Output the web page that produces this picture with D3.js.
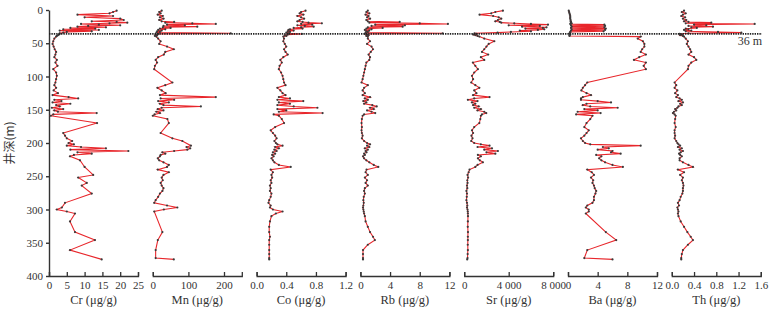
<!DOCTYPE html>
<html>
<head>
<meta charset="utf-8">
<script src="https://cdn.jsdelivr.net/npm/d3@7"></script>
<style>
  body { margin: 0; background: #fff; }
  text { font-family: "Liberation Serif", "DejaVu Serif", serif; fill: #333; }
</style>
</head>
<body>
<svg id="chart" width="773" height="314"></svg>
<script>
// sample depths (m), shared by all elements; null = no sample for that element
const depths = [
  1,3,5,7,9,11,13,15,17,18,19,20,21,22,23,24,25,26,27,28,29,30,31,32,33,34,35,36,
  37,38,39,40,
  43,47,51,55,59,63,67,71,75,79,84,89,94,99,
  104,109,113,117,121,125,128,131,133,135,137,139,141,143,145,147,149,151,153,155,157,159,
  164,170,176,181,185,189,193,197,200,
  202,204,206,208,210,212,214,216,218,220,223,226,229,
  233,236,240,244,248,252,256,260,264,268,272,276,281,286,290,294,297,300,
  303,306,310,318,326,334,341,346,353,361,367,373,375
];

const cr = [
  19,18,17,8,18,10,20,21,12,19,22,17,9,14,20,11,8,16,6,13,4,14,3,12,5,4,3,3,
  2.8,2.5,2.2,2.0,
  1.5,1.2,1.0,1.3,1.6,2.0,1.8,1.5,2.2,1.8,2.4,1.2,2.0,2.2,
  2.0,1.8,1.5,2.0,1.3,2.5,1.0,5.5,8.2,1.5,3.5,1.0,6,2,3,0.8,4,1.5,2.5,13.4,1.2,0.5,
  null,13.5,null,null,4,4.5,5,6.5,5.5,
  7,5,9,16,6,22.3,8,12,7,5.9,null,8.7,null,
  null,10,null,null,12.4,8.2,null,10.6,9.2,null,null,12,null,null,4.5,null,3.6,2.2,
  5,7.3,null,5.9,null,7.3,null,12.9,null,5.9,null,null,14.8
];

const mn = [
  25,18,22,14,28,20,30,18,25,60,35,111,177,40,90,30,125,28,50,20,35,15,25,12,20,10,219,15,
  8,12,6,10,
  15,22,18,40,59,35,31,15,8,12,6,4,null,null,
  null,55,35,13,25,36,20,177,22,60,15,45,20,30,135,25,14,30,10,20,5,0,
  41,45,null,null,22,null,55,83,null,
  null,107,95,105,97,60,27,35,22,20,14,18,30,
  45,40,14,45,30,25,28,22,25,30,27,20,15,8,4,40,69,31,
  4,null,null,null,null,27,null,14,null,8,null,8,59
];

const co = [
  0.66,0.60,0.58,0.63,0.55,0.60,0.64,0.58,0.55,0.62,0.70,0.88,0.60,0.75,0.55,0.65,0.77,0.60,0.50,0.62,0.45,0.43,0.50,0.42,0.45,0.40,0.43,0.61,
  0.42,0.38,0.40,0.36,
  0.37,0.36,0.38,0.40,0.37,0.39,0.42,0.36,0.32,0.34,0.31,0.30,0.33,0.35,
  0.36,0.37,0.39,0.28,0.32,0.35,0.39,0.30,0.45,0.28,0.63,0.30,0.45,0.28,0.50,0.82,0.28,0.40,0.30,0.89,0.23,0.30,
  0.34,0.37,0.25,0.19,0.22,0.25,0.27,0.24,0.26,
  0.28,0.35,0.25,0.30,0.24,0.27,0.22,0.25,0.21,0.23,0.20,0.22,0.24,
  0.30,0.46,0.19,0.22,0.20,0.21,0.19,0.20,0.18,0.19,0.18,0.20,0.19,0.17,0.16,0.19,0.18,0.22,
  0.35,0.26,0.20,0.18,0.17,0.17,0.18,0.17,0.17,0.17,0.17,0.17,0.17
];

const rb = [
  1.0,0.8,1.2,0.7,1.1,0.9,1.3,0.8,1.0,5.3,1.2,8,11.8,2,6,1.5,5.7,1,3,0.8,1.5,0.6,1.2,0.8,1.0,0.7,11.1,0.6,
  0.9,1.1,0.8,1.0,
  1.0,1.3,0.9,1.5,1.7,1.4,1.1,1.3,1.2,0.8,0.7,0.6,0.5,0.4,
  0.3,0.15,1.0,0.5,0.3,0.6,0.3,1.3,0.6,1.0,0.4,0.8,0.5,1.6,2.2,1.3,1.8,0.9,1.5,2.0,0.5,0.3,
  0.2,0.15,0.2,0.15,0.2,0.3,0.2,0.5,0.9,
  1.3,0.9,1.2,0.6,1.0,0.7,0.83,0.5,0.6,0.35,0.5,0.8,1.2,
  1.8,2.4,0.83,0.7,1.0,0.6,0.9,0.7,1.0,0.6,0.5,0.6,0.45,0.4,0.45,0.4,0.35,0.4,
  0.45,0.5,0.6,0.7,1.0,1.3,1.7,1.95,1.0,0.35,0.35,0.35,0.35
];

const sr = [
  3480,2800,2430,1380,2600,3100,3330,3030,2800,3200,3330,4500,6000,7530,4000,6800,5200,7400,7075,5500,7200,6620,5000,6000,4200,3000,930,1100,
  800,1000,1200,1360,
  1800,2700,2200,2000,1800,1600,2150,1500,1800,780,1000,1230,900,700,
  800,630,1000,1360,900,1100,800,2280,900,330,1200,700,1000,800,1300,900,1500,1200,1800,1980,1600,1500,
  1450,1360,900,700,800,650,750,630,900,
  1500,2280,1200,2500,1800,3030,2000,2800,1230,1500,1230,1400,1680,
  1200,1000,480,400,300,350,280,300,250,280,200,250,230,200,250,280,250,300,
  320,330,340,330,320,340,330,330,320,330,310,300,270
];

const ba = [
  0.1,0.15,0.2,0.25,0.3,0.3,0.3,0.35,0.35,0.4,0.4,0.5,0.3,4.9,0.4,5.0,0.5,4.9,0.4,5.1,0.5,5.0,0.4,4.8,0.3,0.3,0.2,0.2,
  0.3,0.2,0.2,9.8,
  9.4,10.1,10.3,10.3,10.0,9.8,10.5,9.6,8.9,10.5,10.2,10.5,null,null,
  null,2.6,2.3,2.0,1.8,2.5,3.1,2.0,1.75,1.75,4.0,5.8,2.5,2.0,3.0,6.7,2.2,4.0,1.3,4.4,1.1,3.3,
  3.0,2.5,2.2,2.8,2.5,2.2,1.75,2.0,2.3,
  3.0,9.8,4.7,5.5,4.0,6.0,5.8,7.1,3.8,4.5,4.2,4.5,5.0,
  6.0,7.4,2.6,3.2,3.5,3.1,3.4,3.3,3.5,3.6,3.8,3.7,3.5,3.5,3.3,2.6,2.4,2.8,
  2.8,2.4,null,null,null,5.1,null,6.5,null,2.6,null,2.2,6.0
];

const th = [
  0.22,0.18,0.25,0.20,0.17,0.24,0.20,0.26,0.22,0.30,0.71,0.25,1.49,0.40,0.62,0.30,0.74,0.35,0.45,0.25,0.30,0.22,0.35,0.25,0.83,1.25,0.30,0.14,
  0.18,0.15,0.20,0.22,
  0.25,0.29,0.27,0.30,0.33,0.35,0.30,0.40,0.44,0.35,0.30,0.29,null,null,
  null,0.05,0.08,0.05,0.10,0.06,0.11,0.08,0.14,0.18,0.12,0.20,0.15,0.18,0.12,0.10,0.06,0.08,0.04,0.02,0.05,0.07,
  0.06,0.05,0.07,0.05,0.05,0.06,0.05,0.08,0.10,
  0.12,0.15,0.11,0.18,0.14,0.20,0.16,0.13,0.15,0.18,0.14,0.14,0.20,
  0.30,0.38,0.11,0.22,0.15,0.20,0.18,0.20,0.21,0.20,0.20,0.19,0.16,0.14,0.11,0.13,0.10,0.11,
  0.12,0.11,0.12,0.16,0.22,0.28,0.34,0.38,0.29,0.20,0.18,0.17,0.17
];

const elements = ["Cr", "Mn", "Co", "Rb", "Sr", "Ba", "Th"];
const seriesValues = [cr, mn, co, rb, sr, ba, th];
const seriesMax = [25, 250, 1.2, 12, 8000, 12, 1.6];
const xTicks = [
  [0, 5, 10, 15, 20, 25],
  [0, 100, 200],
  [0, 0.4, 0.8, 1.2],
  [0, 4, 8, 12],
  [0, 4000, 8000],
  [0, 4, 8, 12],
  [0, 0.4, 0.8, 1.2, 1.6]
];
const depthTicks = [0, 50, 100, 150, 200, 250, 300, 350, 400];
const boundaryDepth = 36;

const svg = d3.select("#chart");
const y = d3.scaleLinear().domain([0, 400]).range([10, 276]);
const panelLeft = 49, panelStep = 103.8, panelWidth = 89;

// depth axis
const yAxis = svg.append("g")
  .attr("transform", `translate(${panelLeft},0)`)
  .call(d3.axisLeft(y).tickValues(depthTicks).tickSize(3).tickPadding(3).tickSizeOuter(0));
yAxis.selectAll("text").style("font-size", "11px");
yAxis.selectAll("path,line").attr("stroke", "#333").attr("stroke-width", 1.4);

svg.append("text")
  .attr("transform", `translate(14,${(y(0) + y(400)) / 2}) rotate(-90)`)
  .attr("text-anchor", "middle")
  .style("font-family", "'Noto Sans CJK SC', sans-serif")
  .style("font-size", "12px")
  .text("井深(m)");

function fmt(i) {
  if (i === 2 || i === 6) return d3.format(".1f");
  if (i === 4) return d => d3.format(",")(d).replace(",", " ");
  return d3.format("d");
}

const line = d3.line().x(d => d.x).y(d => d.y);

elements.forEach((name, i) => {
  const x0 = panelLeft + i * panelStep;
  const x = d3.scaleLinear().domain([0, seriesMax[i]]).range([x0, x0 + panelWidth]);
  const pts = depths
    .map((dep, j) => ({ dep, v: seriesValues[i][j] }))
    .filter(p => p.v !== null)
    .map(p => ({ x: x(p.v), y: y(p.dep) }));

  const ax = svg.append("g")
    .attr("transform", `translate(0,${y(400)})`)
    .call(d3.axisBottom(x).tickValues(xTicks[i]).tickFormat(fmt(i))
      .tickSizeInner(-4).tickSizeOuter(-4).tickPadding(5));
  ax.selectAll("text").style("font-size", "11px");
  ax.selectAll("path,line").attr("stroke", "#333").attr("stroke-width", 1.3);

  svg.append("path")
    .datum(pts)
    .attr("d", line)
    .attr("fill", "none")
    .attr("stroke", "#e8262b")
    .attr("stroke-width", 1.1);

  svg.append("g").selectAll("circle")
    .data(pts)
    .join("circle")
    .attr("cx", d => d.x)
    .attr("cy", d => d.y)
    .attr("r", 1.1)
    .attr("fill", "#3a3a3a");

  svg.append("text")
    .attr("x", x0 + panelWidth / 2)
    .attr("y", 304)
    .attr("text-anchor", "middle")
    .style("font-size", "12.5px")
    .text(`${name} (μg/g)`);
});

// 36 m boundary
svg.append("line")
  .attr("x1", panelLeft).attr("x2", 762)
  .attr("y1", y(boundaryDepth)).attr("y2", y(boundaryDepth))
  .attr("stroke", "#222")
  .attr("stroke-width", 1.8)
  .attr("stroke-dasharray", "1.4,1");

svg.append("text")
  .attr("x", 762)
  .attr("y", y(boundaryDepth) + 11)
  .attr("text-anchor", "end")
  .style("font-size", "12px")
  .text("36 m");
</script>
</body>
</html>
